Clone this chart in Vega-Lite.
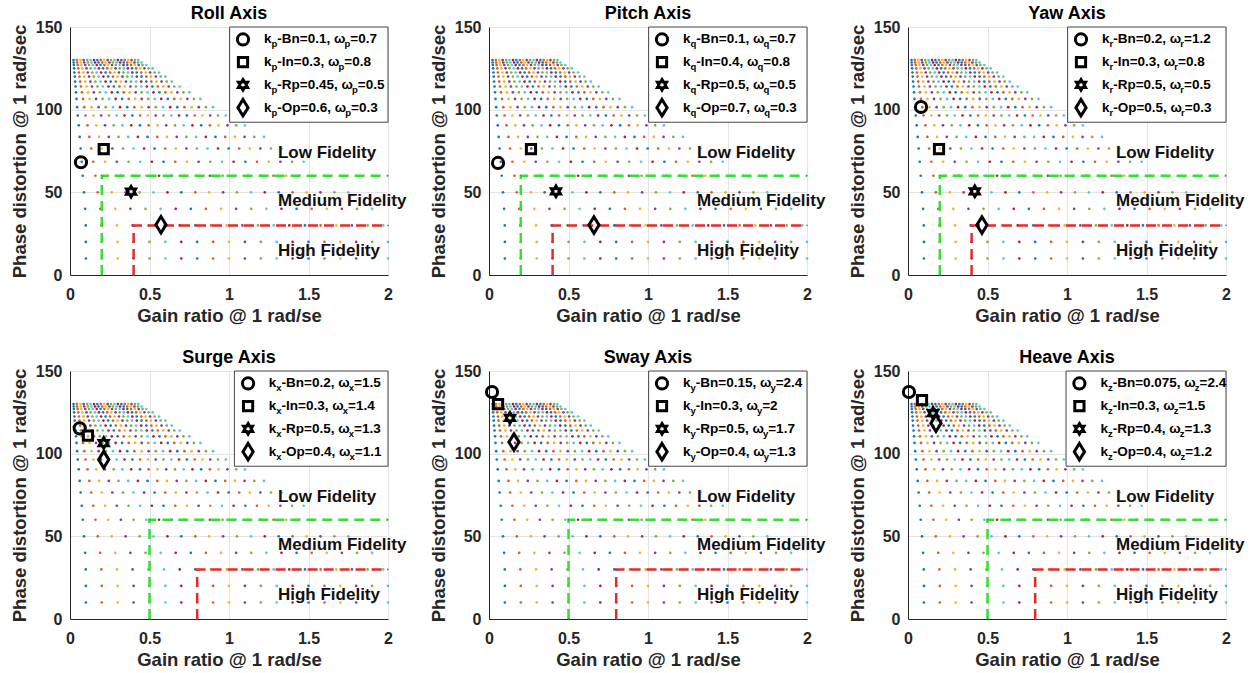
{
"$schema":"https://vega.github.io/schema/vega-lite/v6.json",
"padding":{"left":9,"top":4,"right":5,"bottom":0},
"columns":3,
"spacing":{"row":96,"column":101},
"bounds":"flush",
"datasets":{
"fid":[{"x":1.308,"y":73.8,"t":"Low Fidelity"},{"x":1.308,"y":44.6,"t":"Medium Fidelity"},{"x":1.308,"y":14.3,"t":"High Fidelity"}],
"grid":[
{"x":0.1,"y":10,"c":0},{"x":0.2,"y":10,"c":1},{"x":0.3,"y":10,"c":2},{"x":0.4,"y":10,"c":3},{"x":0.5,"y":10,"c":4},{"x":0.6,"y":10,"c":5},{"x":0.7,"y":10,"c":6},{"x":0.8,"y":10,"c":0},{"x":0.9,"y":10,"c":1},{"x":1,"y":10,"c":2},{"x":1.1,"y":10,"c":3},{"x":1.2,"y":10,"c":4},{"x":1.3,"y":10,"c":5},{"x":1.4,"y":10,"c":6},{"x":1.5,"y":10,"c":0},{"x":1.6,"y":10,"c":1},{"x":1.7,"y":10,"c":2},{"x":1.8,"y":10,"c":3},{"x":1.9,"y":10,"c":4},{"x":2,"y":10,"c":5},
{"x":0.1,"y":20,"c":0},{"x":0.2,"y":20,"c":1},{"x":0.3,"y":20,"c":2},{"x":0.4,"y":20,"c":3},{"x":0.5,"y":20,"c":4},{"x":0.6,"y":20,"c":5},{"x":0.7,"y":20,"c":6},{"x":0.8,"y":20,"c":0},{"x":0.9,"y":20,"c":1},{"x":1,"y":20,"c":2},{"x":1.1,"y":20,"c":3},{"x":1.2,"y":20,"c":4},{"x":1.3,"y":20,"c":5},{"x":1.4,"y":20,"c":6},{"x":1.5,"y":20,"c":0},{"x":1.6,"y":20,"c":1},{"x":1.7,"y":20,"c":2},{"x":1.8,"y":20,"c":3},{"x":1.9,"y":20,"c":4},{"x":2,"y":20,"c":5},
{"x":0.099,"y":30,"c":0},{"x":0.197,"y":30,"c":1},{"x":0.296,"y":30,"c":2},{"x":0.394,"y":30,"c":3},{"x":0.493,"y":30,"c":4},{"x":0.591,"y":30,"c":5},{"x":0.69,"y":30,"c":6},{"x":0.788,"y":30,"c":0},{"x":0.887,"y":30,"c":1},{"x":0.985,"y":30,"c":2},{"x":1.084,"y":30,"c":3},{"x":1.182,"y":30,"c":4},{"x":1.281,"y":30,"c":5},{"x":1.379,"y":30,"c":6},{"x":1.478,"y":30,"c":0},{"x":1.576,"y":30,"c":1},{"x":1.675,"y":30,"c":2},{"x":1.773,"y":30,"c":3},{"x":1.872,"y":30,"c":4},{"x":1.97,"y":30,"c":5},
{"x":0.095,"y":40,"c":0},{"x":0.19,"y":40,"c":1},{"x":0.285,"y":40,"c":2},{"x":0.38,"y":40,"c":3},{"x":0.475,"y":40,"c":4},{"x":0.57,"y":40,"c":5},{"x":0.665,"y":40,"c":6},{"x":0.76,"y":40,"c":0},{"x":0.855,"y":40,"c":1},{"x":0.95,"y":40,"c":2},{"x":1.045,"y":40,"c":3},{"x":1.14,"y":40,"c":4},{"x":1.235,"y":40,"c":5},{"x":1.33,"y":40,"c":6},{"x":1.425,"y":40,"c":0},{"x":1.52,"y":40,"c":1},{"x":1.615,"y":40,"c":2},{"x":1.71,"y":40,"c":3},{"x":1.805,"y":40,"c":4},{"x":1.9,"y":40,"c":5},
{"x":0.088,"y":50,"c":0},{"x":0.175,"y":50,"c":1},{"x":0.263,"y":50,"c":2},{"x":0.35,"y":50,"c":3},{"x":0.438,"y":50,"c":4},{"x":0.525,"y":50,"c":5},{"x":0.613,"y":50,"c":6},{"x":0.7,"y":50,"c":0},{"x":0.788,"y":50,"c":1},{"x":0.875,"y":50,"c":2},{"x":0.963,"y":50,"c":3},{"x":1.05,"y":50,"c":4},{"x":1.138,"y":50,"c":5},{"x":1.225,"y":50,"c":6},{"x":1.313,"y":50,"c":0},{"x":1.4,"y":50,"c":1},{"x":1.488,"y":50,"c":2},{"x":1.575,"y":50,"c":3},{"x":1.663,"y":50,"c":4},{"x":1.75,"y":50,"c":5},
{"x":0.08,"y":60,"c":0},{"x":0.16,"y":60,"c":1},{"x":0.24,"y":60,"c":2},{"x":0.32,"y":60,"c":3},{"x":0.4,"y":60,"c":4},{"x":0.48,"y":60,"c":5},{"x":0.56,"y":60,"c":6},{"x":0.64,"y":60,"c":0},{"x":0.72,"y":60,"c":1},{"x":0.8,"y":60,"c":2},{"x":0.88,"y":60,"c":3},{"x":0.96,"y":60,"c":4},{"x":1.04,"y":60,"c":5},{"x":1.12,"y":60,"c":6},{"x":1.2,"y":60,"c":0},{"x":1.28,"y":60,"c":1},{"x":1.36,"y":60,"c":2},{"x":1.44,"y":60,"c":3},{"x":1.52,"y":60,"c":4},{"x":1.6,"y":60,"c":5},
{"x":0.074,"y":68.5,"c":0},{"x":0.147,"y":68.5,"c":1},{"x":0.221,"y":68.5,"c":2},{"x":0.294,"y":68.5,"c":3},{"x":0.368,"y":68.5,"c":4},{"x":0.441,"y":68.5,"c":5},{"x":0.515,"y":68.5,"c":6},{"x":0.588,"y":68.5,"c":0},{"x":0.662,"y":68.5,"c":1},{"x":0.735,"y":68.5,"c":2},{"x":0.809,"y":68.5,"c":3},{"x":0.882,"y":68.5,"c":4},{"x":0.956,"y":68.5,"c":5},{"x":1.029,"y":68.5,"c":6},{"x":1.103,"y":68.5,"c":0},{"x":1.176,"y":68.5,"c":1},{"x":1.25,"y":68.5,"c":2},{"x":1.323,"y":68.5,"c":3},{"x":1.397,"y":68.5,"c":4},{"x":1.47,"y":68.5,"c":5},
{"x":0.067,"y":76.5,"c":0},{"x":0.133,"y":76.5,"c":1},{"x":0.2,"y":76.5,"c":2},{"x":0.266,"y":76.5,"c":3},{"x":0.333,"y":76.5,"c":4},{"x":0.399,"y":76.5,"c":5},{"x":0.466,"y":76.5,"c":6},{"x":0.532,"y":76.5,"c":0},{"x":0.599,"y":76.5,"c":1},{"x":0.665,"y":76.5,"c":2},{"x":0.732,"y":76.5,"c":3},{"x":0.798,"y":76.5,"c":4},{"x":0.865,"y":76.5,"c":5},{"x":0.931,"y":76.5,"c":6},{"x":0.998,"y":76.5,"c":0},{"x":1.064,"y":76.5,"c":1},{"x":1.131,"y":76.5,"c":2},{"x":1.197,"y":76.5,"c":3},{"x":1.264,"y":76.5,"c":4},{"x":1.33,"y":76.5,"c":5},
{"x":0.061,"y":83.5,"c":0},{"x":0.122,"y":83.5,"c":1},{"x":0.183,"y":83.5,"c":2},{"x":0.244,"y":83.5,"c":3},{"x":0.305,"y":83.5,"c":4},{"x":0.366,"y":83.5,"c":5},{"x":0.427,"y":83.5,"c":6},{"x":0.488,"y":83.5,"c":0},{"x":0.549,"y":83.5,"c":1},{"x":0.61,"y":83.5,"c":2},{"x":0.671,"y":83.5,"c":3},{"x":0.732,"y":83.5,"c":4},{"x":0.793,"y":83.5,"c":5},{"x":0.854,"y":83.5,"c":6},{"x":0.915,"y":83.5,"c":0},{"x":0.976,"y":83.5,"c":1},{"x":1.037,"y":83.5,"c":2},{"x":1.098,"y":83.5,"c":3},{"x":1.159,"y":83.5,"c":4},{"x":1.22,"y":83.5,"c":5},
{"x":0.055,"y":90.5,"c":0},{"x":0.11,"y":90.5,"c":1},{"x":0.165,"y":90.5,"c":2},{"x":0.22,"y":90.5,"c":3},{"x":0.275,"y":90.5,"c":4},{"x":0.33,"y":90.5,"c":5},{"x":0.385,"y":90.5,"c":6},{"x":0.44,"y":90.5,"c":0},{"x":0.495,"y":90.5,"c":1},{"x":0.55,"y":90.5,"c":2},{"x":0.605,"y":90.5,"c":3},{"x":0.66,"y":90.5,"c":4},{"x":0.715,"y":90.5,"c":5},{"x":0.77,"y":90.5,"c":6},{"x":0.825,"y":90.5,"c":0},{"x":0.88,"y":90.5,"c":1},{"x":0.935,"y":90.5,"c":2},{"x":0.99,"y":90.5,"c":3},{"x":1.045,"y":90.5,"c":4},{"x":1.1,"y":90.5,"c":5},
{"x":0.049,"y":96.5,"c":0},{"x":0.098,"y":96.5,"c":1},{"x":0.147,"y":96.5,"c":2},{"x":0.196,"y":96.5,"c":3},{"x":0.245,"y":96.5,"c":4},{"x":0.294,"y":96.5,"c":5},{"x":0.343,"y":96.5,"c":6},{"x":0.392,"y":96.5,"c":0},{"x":0.441,"y":96.5,"c":1},{"x":0.49,"y":96.5,"c":2},{"x":0.539,"y":96.5,"c":3},{"x":0.588,"y":96.5,"c":4},{"x":0.637,"y":96.5,"c":5},{"x":0.686,"y":96.5,"c":6},{"x":0.735,"y":96.5,"c":0},{"x":0.784,"y":96.5,"c":1},{"x":0.833,"y":96.5,"c":2},{"x":0.882,"y":96.5,"c":3},{"x":0.931,"y":96.5,"c":4},{"x":0.98,"y":96.5,"c":5},
{"x":0.045,"y":101.5,"c":0},{"x":0.09,"y":101.5,"c":1},{"x":0.135,"y":101.5,"c":2},{"x":0.18,"y":101.5,"c":3},{"x":0.225,"y":101.5,"c":4},{"x":0.27,"y":101.5,"c":5},{"x":0.315,"y":101.5,"c":6},{"x":0.36,"y":101.5,"c":0},{"x":0.405,"y":101.5,"c":1},{"x":0.45,"y":101.5,"c":2},{"x":0.495,"y":101.5,"c":3},{"x":0.54,"y":101.5,"c":4},{"x":0.585,"y":101.5,"c":5},{"x":0.63,"y":101.5,"c":6},{"x":0.675,"y":101.5,"c":0},{"x":0.72,"y":101.5,"c":1},{"x":0.765,"y":101.5,"c":2},{"x":0.81,"y":101.5,"c":3},{"x":0.855,"y":101.5,"c":4},{"x":0.9,"y":101.5,"c":5},
{"x":0.041,"y":106.5,"c":0},{"x":0.082,"y":106.5,"c":1},{"x":0.123,"y":106.5,"c":2},{"x":0.164,"y":106.5,"c":3},{"x":0.205,"y":106.5,"c":4},{"x":0.246,"y":106.5,"c":5},{"x":0.287,"y":106.5,"c":6},{"x":0.328,"y":106.5,"c":0},{"x":0.369,"y":106.5,"c":1},{"x":0.41,"y":106.5,"c":2},{"x":0.451,"y":106.5,"c":3},{"x":0.492,"y":106.5,"c":4},{"x":0.533,"y":106.5,"c":5},{"x":0.574,"y":106.5,"c":6},{"x":0.615,"y":106.5,"c":0},{"x":0.656,"y":106.5,"c":1},{"x":0.697,"y":106.5,"c":2},{"x":0.738,"y":106.5,"c":3},{"x":0.779,"y":106.5,"c":4},{"x":0.82,"y":106.5,"c":5},
{"x":0.038,"y":110.5,"c":0},{"x":0.075,"y":110.5,"c":1},{"x":0.113,"y":110.5,"c":2},{"x":0.15,"y":110.5,"c":3},{"x":0.188,"y":110.5,"c":4},{"x":0.225,"y":110.5,"c":5},{"x":0.263,"y":110.5,"c":6},{"x":0.3,"y":110.5,"c":0},{"x":0.338,"y":110.5,"c":1},{"x":0.375,"y":110.5,"c":2},{"x":0.413,"y":110.5,"c":3},{"x":0.45,"y":110.5,"c":4},{"x":0.488,"y":110.5,"c":5},{"x":0.525,"y":110.5,"c":6},{"x":0.563,"y":110.5,"c":0},{"x":0.6,"y":110.5,"c":1},{"x":0.638,"y":110.5,"c":2},{"x":0.675,"y":110.5,"c":3},{"x":0.713,"y":110.5,"c":4},{"x":0.75,"y":110.5,"c":5},
{"x":0.035,"y":114,"c":0},{"x":0.069,"y":114,"c":1},{"x":0.104,"y":114,"c":2},{"x":0.138,"y":114,"c":3},{"x":0.173,"y":114,"c":4},{"x":0.207,"y":114,"c":5},{"x":0.242,"y":114,"c":6},{"x":0.276,"y":114,"c":0},{"x":0.311,"y":114,"c":1},{"x":0.345,"y":114,"c":2},{"x":0.38,"y":114,"c":3},{"x":0.414,"y":114,"c":4},{"x":0.449,"y":114,"c":5},{"x":0.483,"y":114,"c":6},{"x":0.518,"y":114,"c":0},{"x":0.552,"y":114,"c":1},{"x":0.587,"y":114,"c":2},{"x":0.621,"y":114,"c":3},{"x":0.656,"y":114,"c":4},{"x":0.69,"y":114,"c":5},
{"x":0.032,"y":117,"c":0},{"x":0.064,"y":117,"c":1},{"x":0.096,"y":117,"c":2},{"x":0.128,"y":117,"c":3},{"x":0.16,"y":117,"c":4},{"x":0.192,"y":117,"c":5},{"x":0.224,"y":117,"c":6},{"x":0.256,"y":117,"c":0},{"x":0.288,"y":117,"c":1},{"x":0.32,"y":117,"c":2},{"x":0.352,"y":117,"c":3},{"x":0.384,"y":117,"c":4},{"x":0.416,"y":117,"c":5},{"x":0.448,"y":117,"c":6},{"x":0.48,"y":117,"c":0},{"x":0.512,"y":117,"c":1},{"x":0.544,"y":117,"c":2},{"x":0.576,"y":117,"c":3},{"x":0.608,"y":117,"c":4},{"x":0.64,"y":117,"c":5},
{"x":0.03,"y":120,"c":0},{"x":0.06,"y":120,"c":1},{"x":0.09,"y":120,"c":2},{"x":0.12,"y":120,"c":3},{"x":0.15,"y":120,"c":4},{"x":0.18,"y":120,"c":5},{"x":0.21,"y":120,"c":6},{"x":0.24,"y":120,"c":0},{"x":0.27,"y":120,"c":1},{"x":0.3,"y":120,"c":2},{"x":0.33,"y":120,"c":3},{"x":0.36,"y":120,"c":4},{"x":0.39,"y":120,"c":5},{"x":0.42,"y":120,"c":6},{"x":0.45,"y":120,"c":0},{"x":0.48,"y":120,"c":1},{"x":0.51,"y":120,"c":2},{"x":0.54,"y":120,"c":3},{"x":0.57,"y":120,"c":4},{"x":0.6,"y":120,"c":5},
{"x":0.028,"y":122.5,"c":0},{"x":0.056,"y":122.5,"c":1},{"x":0.084,"y":122.5,"c":2},{"x":0.112,"y":122.5,"c":3},{"x":0.14,"y":122.5,"c":4},{"x":0.168,"y":122.5,"c":5},{"x":0.196,"y":122.5,"c":6},{"x":0.224,"y":122.5,"c":0},{"x":0.252,"y":122.5,"c":1},{"x":0.28,"y":122.5,"c":2},{"x":0.308,"y":122.5,"c":3},{"x":0.336,"y":122.5,"c":4},{"x":0.364,"y":122.5,"c":5},{"x":0.392,"y":122.5,"c":6},{"x":0.42,"y":122.5,"c":0},{"x":0.448,"y":122.5,"c":1},{"x":0.476,"y":122.5,"c":2},{"x":0.504,"y":122.5,"c":3},{"x":0.532,"y":122.5,"c":4},{"x":0.56,"y":122.5,"c":5},
{"x":0.026,"y":125,"c":0},{"x":0.052,"y":125,"c":1},{"x":0.078,"y":125,"c":2},{"x":0.104,"y":125,"c":3},{"x":0.13,"y":125,"c":4},{"x":0.156,"y":125,"c":5},{"x":0.182,"y":125,"c":6},{"x":0.208,"y":125,"c":0},{"x":0.234,"y":125,"c":1},{"x":0.26,"y":125,"c":2},{"x":0.286,"y":125,"c":3},{"x":0.312,"y":125,"c":4},{"x":0.338,"y":125,"c":5},{"x":0.364,"y":125,"c":6},{"x":0.39,"y":125,"c":0},{"x":0.416,"y":125,"c":1},{"x":0.442,"y":125,"c":2},{"x":0.468,"y":125,"c":3},{"x":0.494,"y":125,"c":4},{"x":0.52,"y":125,"c":5},
{"x":0.024,"y":127,"c":0},{"x":0.048,"y":127,"c":1},{"x":0.072,"y":127,"c":2},{"x":0.096,"y":127,"c":3},{"x":0.12,"y":127,"c":4},{"x":0.144,"y":127,"c":5},{"x":0.168,"y":127,"c":6},{"x":0.192,"y":127,"c":0},{"x":0.216,"y":127,"c":1},{"x":0.24,"y":127,"c":2},{"x":0.264,"y":127,"c":3},{"x":0.288,"y":127,"c":4},{"x":0.312,"y":127,"c":5},{"x":0.336,"y":127,"c":6},{"x":0.36,"y":127,"c":0},{"x":0.384,"y":127,"c":1},{"x":0.408,"y":127,"c":2},{"x":0.432,"y":127,"c":3},{"x":0.456,"y":127,"c":4},{"x":0.48,"y":127,"c":5},
{"x":0.023,"y":128.5,"c":0},{"x":0.045,"y":128.5,"c":1},{"x":0.068,"y":128.5,"c":2},{"x":0.09,"y":128.5,"c":3},{"x":0.113,"y":128.5,"c":4},{"x":0.135,"y":128.5,"c":5},{"x":0.158,"y":128.5,"c":6},{"x":0.18,"y":128.5,"c":0},{"x":0.203,"y":128.5,"c":1},{"x":0.225,"y":128.5,"c":2},{"x":0.248,"y":128.5,"c":3},{"x":0.27,"y":128.5,"c":4},{"x":0.293,"y":128.5,"c":5},{"x":0.315,"y":128.5,"c":6},{"x":0.338,"y":128.5,"c":0},{"x":0.36,"y":128.5,"c":1},{"x":0.383,"y":128.5,"c":2},{"x":0.405,"y":128.5,"c":3},{"x":0.428,"y":128.5,"c":4},{"x":0.45,"y":128.5,"c":5},
{"x":0.022,"y":130,"c":0},{"x":0.043,"y":130,"c":1},{"x":0.065,"y":130,"c":2},{"x":0.086,"y":130,"c":3},{"x":0.108,"y":130,"c":4},{"x":0.129,"y":130,"c":5},{"x":0.151,"y":130,"c":6},{"x":0.172,"y":130,"c":0},{"x":0.194,"y":130,"c":1},{"x":0.215,"y":130,"c":2},{"x":0.237,"y":130,"c":3},{"x":0.258,"y":130,"c":4},{"x":0.28,"y":130,"c":5},{"x":0.301,"y":130,"c":6},{"x":0.323,"y":130,"c":0},{"x":0.344,"y":130,"c":1},{"x":0.366,"y":130,"c":2},{"x":0.387,"y":130,"c":3},{"x":0.409,"y":130,"c":4},{"x":0.43,"y":130,"c":5}
]
},
"concat":[
{"title":"Roll Axis","width":318,"height":248,
"encoding":{"x":{"field":"x","type":"quantitative","scale":{"domain":[0,2],"nice":false},"axis":{"values":[0,0.5,1,1.5,2],"format":"~g","title":"Gain ratio @ 1 rad/se"}},"y":{"field":"y","type":"quantitative","scale":{"domain":[0,150],"nice":false},"axis":{"values":[0,50,100,150],"format":"d","title":"Phase distortion @ 1 rad/sec"}},"shape":{"field":"m","type":"nominal","scale":{"domain":["Bn","In","Rp","Op"],"range":["circle","square","M0,-1L0.289,-0.5L0.866,-0.5L0.577,0L0.866,0.5L0.289,0.5L0,1L-0.289,0.5L-0.866,0.5L-0.577,0L-0.866,-0.5L-0.289,-0.5Z","M0,-1L0.62,0L0,1L-0.62,0Z"]},"legend":null},"size":{"field":"m","type":"nominal","scale":{"type":"ordinal","domain":["Bn","In","Rp","Op"],"range":[125,85,110,270]},"legend":null}},
"layer":[
{"data":{"name":"grid"},"mark":{"type":"point","filled":true,"size":7,"opacity":0.95},"encoding":{"shape":{"value":"circle"},"size":{"value":7},"color":{"field":"c","type":"nominal","scale":{"domain":[0,1,2,3,4,5,6],"range":["#0072BD","#D95319","#EDB120","#7E2F8E","#77AC30","#4DBEEE","#A2142F"]},"legend":null}}},
{"data":{"values":[{"x":0.2,"y":0,"o":1},{"x":0.2,"y":60,"o":2},{"x":2,"y":60,"o":3}]},"mark":{"type":"line","color":"#33e033","strokeWidth":2.5,"strokeDash":[10,6]},"encoding":{"shape":{"value":"circle"},"size":{"value":2.5},"order":{"field":"o","type":"quantitative"}}},
{"data":{"values":[{"x":0.4,"y":0,"o":1},{"x":0.4,"y":30,"o":2},{"x":2,"y":30,"o":3}]},"mark":{"type":"line","color":"#e52a2a","strokeWidth":2.5,"strokeDash":[10,6]},"encoding":{"shape":{"value":"circle"},"size":{"value":2.5},"order":{"field":"o","type":"quantitative"}}},
{"data":{"values":[{"x":0.069,"y":68.2,"m":"Bn"},{"x":0.212,"y":76.2,"m":"In"},{"x":0.384,"y":50.4,"m":"Rp"},{"x":0.572,"y":30.4,"m":"Op"}]},"mark":{"type":"point","filled":false,"color":"black","strokeWidth":3,"opacity":1}},
{"data":{"name":"fid"},"mark":{"type":"text","align":"left","baseline":"middle","fontSize":17,"fontWeight":"bold","color":"#111"},"encoding":{"shape":{"value":"circle"},"size":{"value":17},"text":{"field":"t"}}},
{"data":{"values":[{"x":1.004,"x2":2,"y":92.4,"y2":150}]},"mark":{"type":"rect","fill":"white","stroke":"#444","strokeWidth":1},"encoding":{"shape":{"value":"circle"},"size":{"value":1},"x2":{"field":"x2"},"y2":{"field":"y2"}}},
{"data":{"values":[{"x":1.088,"y":142.5,"m":"Bn"},{"x":1.088,"y":128.7,"m":"In"},{"x":1.088,"y":115,"m":"Rp"},{"x":1.088,"y":101.2,"m":"Op"}]},"mark":{"type":"point","filled":false,"color":"black","strokeWidth":3,"opacity":1}},
{"data":{"values":[{"x":1.22,"y":142.5,"t":"k"},{"x":1.3037,"y":142.5,"t":"-Bn=0.1, ω"},{"x":1.7627,"y":142.5,"t":"=0.7"},{"x":1.22,"y":128.7,"t":"k"},{"x":1.3037,"y":128.7,"t":"-In=0.3, ω"},{"x":1.725,"y":128.7,"t":"=0.8"},{"x":1.22,"y":115,"t":"k"},{"x":1.3037,"y":115,"t":"-Rp=0.45, ω"},{"x":1.8099,"y":115,"t":"=0.5"},{"x":1.22,"y":101.2,"t":"k"},{"x":1.3037,"y":101.2,"t":"-Op=0.6, ω"},{"x":1.7674,"y":101.2,"t":"=0.3"}]},"mark":{"type":"text","align":"left","baseline":"middle","fontWeight":"bold","color":"black"},"encoding":{"shape":{"value":"circle"},"size":{"value":13.5},"text":{"field":"t"}}},
{"data":{"values":[{"x":1.2672,"y":142.5,"t":"p"},{"x":1.7262,"y":142.5,"t":"p"},{"x":1.2672,"y":128.7,"t":"p"},{"x":1.6885,"y":128.7,"t":"p"},{"x":1.2672,"y":115,"t":"p"},{"x":1.7734,"y":115,"t":"p"},{"x":1.2672,"y":101.2,"t":"p"},{"x":1.7309,"y":101.2,"t":"p"}]},"mark":{"type":"text","align":"left","baseline":"middle","fontWeight":"bold","dy":5,"color":"black"},"encoding":{"shape":{"value":"circle"},"size":{"value":9.5},"text":{"field":"t"}}}
]},
{"title":"Pitch Axis","width":318,"height":248,
"encoding":{"x":{"field":"x","type":"quantitative","scale":{"domain":[0,2],"nice":false},"axis":{"values":[0,0.5,1,1.5,2],"format":"~g","title":"Gain ratio @ 1 rad/se"}},"y":{"field":"y","type":"quantitative","scale":{"domain":[0,150],"nice":false},"axis":{"values":[0,50,100,150],"format":"d","title":"Phase distortion @ 1 rad/sec"}},"shape":{"field":"m","type":"nominal","scale":{"domain":["Bn","In","Rp","Op"],"range":["circle","square","M0,-1L0.289,-0.5L0.866,-0.5L0.577,0L0.866,0.5L0.289,0.5L0,1L-0.289,0.5L-0.866,0.5L-0.577,0L-0.866,-0.5L-0.289,-0.5Z","M0,-1L0.62,0L0,1L-0.62,0Z"]},"legend":null},"size":{"field":"m","type":"nominal","scale":{"type":"ordinal","domain":["Bn","In","Rp","Op"],"range":[125,85,110,270]},"legend":null}},
"layer":[
{"data":{"name":"grid"},"mark":{"type":"point","filled":true,"size":7,"opacity":0.95},"encoding":{"shape":{"value":"circle"},"size":{"value":7},"color":{"field":"c","type":"nominal","scale":{"domain":[0,1,2,3,4,5,6],"range":["#0072BD","#D95319","#EDB120","#7E2F8E","#77AC30","#4DBEEE","#A2142F"]},"legend":null}}},
{"data":{"values":[{"x":0.2,"y":0,"o":1},{"x":0.2,"y":60,"o":2},{"x":2,"y":60,"o":3}]},"mark":{"type":"line","color":"#33e033","strokeWidth":2.5,"strokeDash":[10,6]},"encoding":{"shape":{"value":"circle"},"size":{"value":2.5},"order":{"field":"o","type":"quantitative"}}},
{"data":{"values":[{"x":0.4,"y":0,"o":1},{"x":0.4,"y":30,"o":2},{"x":2,"y":30,"o":3}]},"mark":{"type":"line","color":"#e52a2a","strokeWidth":2.5,"strokeDash":[10,6]},"encoding":{"shape":{"value":"circle"},"size":{"value":2.5},"order":{"field":"o","type":"quantitative"}}},
{"data":{"values":[{"x":0.057,"y":67.8,"m":"Bn"},{"x":0.264,"y":76.2,"m":"In"},{"x":0.421,"y":50.6,"m":"Rp"},{"x":0.66,"y":30.2,"m":"Op"}]},"mark":{"type":"point","filled":false,"color":"black","strokeWidth":3,"opacity":1}},
{"data":{"name":"fid"},"mark":{"type":"text","align":"left","baseline":"middle","fontSize":17,"fontWeight":"bold","color":"#111"},"encoding":{"shape":{"value":"circle"},"size":{"value":17},"text":{"field":"t"}}},
{"data":{"values":[{"x":1.004,"x2":2,"y":92.4,"y2":150}]},"mark":{"type":"rect","fill":"white","stroke":"#444","strokeWidth":1},"encoding":{"shape":{"value":"circle"},"size":{"value":1},"x2":{"field":"x2"},"y2":{"field":"y2"}}},
{"data":{"values":[{"x":1.088,"y":142.5,"m":"Bn"},{"x":1.088,"y":128.7,"m":"In"},{"x":1.088,"y":115,"m":"Rp"},{"x":1.088,"y":101.2,"m":"Op"}]},"mark":{"type":"point","filled":false,"color":"black","strokeWidth":3,"opacity":1}},
{"data":{"values":[{"x":1.22,"y":142.5,"t":"k"},{"x":1.3037,"y":142.5,"t":"-Bn=0.1, ω"},{"x":1.7627,"y":142.5,"t":"=0.7"},{"x":1.22,"y":128.7,"t":"k"},{"x":1.3037,"y":128.7,"t":"-In=0.4, ω"},{"x":1.725,"y":128.7,"t":"=0.8"},{"x":1.22,"y":115,"t":"k"},{"x":1.3037,"y":115,"t":"-Rp=0.5, ω"},{"x":1.7627,"y":115,"t":"=0.5"},{"x":1.22,"y":101.2,"t":"k"},{"x":1.3037,"y":101.2,"t":"-Op=0.7, ω"},{"x":1.7674,"y":101.2,"t":"=0.3"}]},"mark":{"type":"text","align":"left","baseline":"middle","fontWeight":"bold","color":"black"},"encoding":{"shape":{"value":"circle"},"size":{"value":13.5},"text":{"field":"t"}}},
{"data":{"values":[{"x":1.2672,"y":142.5,"t":"q"},{"x":1.7262,"y":142.5,"t":"q"},{"x":1.2672,"y":128.7,"t":"q"},{"x":1.6885,"y":128.7,"t":"q"},{"x":1.2672,"y":115,"t":"q"},{"x":1.7262,"y":115,"t":"q"},{"x":1.2672,"y":101.2,"t":"q"},{"x":1.7309,"y":101.2,"t":"q"}]},"mark":{"type":"text","align":"left","baseline":"middle","fontWeight":"bold","dy":5,"color":"black"},"encoding":{"shape":{"value":"circle"},"size":{"value":9.5},"text":{"field":"t"}}}
]},
{"title":"Yaw Axis","width":318,"height":248,
"encoding":{"x":{"field":"x","type":"quantitative","scale":{"domain":[0,2],"nice":false},"axis":{"values":[0,0.5,1,1.5,2],"format":"~g","title":"Gain ratio @ 1 rad/se"}},"y":{"field":"y","type":"quantitative","scale":{"domain":[0,150],"nice":false},"axis":{"values":[0,50,100,150],"format":"d","title":"Phase distortion @ 1 rad/sec"}},"shape":{"field":"m","type":"nominal","scale":{"domain":["Bn","In","Rp","Op"],"range":["circle","square","M0,-1L0.289,-0.5L0.866,-0.5L0.577,0L0.866,0.5L0.289,0.5L0,1L-0.289,0.5L-0.866,0.5L-0.577,0L-0.866,-0.5L-0.289,-0.5Z","M0,-1L0.62,0L0,1L-0.62,0Z"]},"legend":null},"size":{"field":"m","type":"nominal","scale":{"type":"ordinal","domain":["Bn","In","Rp","Op"],"range":[125,85,110,270]},"legend":null}},
"layer":[
{"data":{"name":"grid"},"mark":{"type":"point","filled":true,"size":7,"opacity":0.95},"encoding":{"shape":{"value":"circle"},"size":{"value":7},"color":{"field":"c","type":"nominal","scale":{"domain":[0,1,2,3,4,5,6],"range":["#0072BD","#D95319","#EDB120","#7E2F8E","#77AC30","#4DBEEE","#A2142F"]},"legend":null}}},
{"data":{"values":[{"x":0.2,"y":0,"o":1},{"x":0.2,"y":60,"o":2},{"x":2,"y":60,"o":3}]},"mark":{"type":"line","color":"#33e033","strokeWidth":2.5,"strokeDash":[10,6]},"encoding":{"shape":{"value":"circle"},"size":{"value":2.5},"order":{"field":"o","type":"quantitative"}}},
{"data":{"values":[{"x":0.4,"y":0,"o":1},{"x":0.4,"y":30,"o":2},{"x":2,"y":30,"o":3}]},"mark":{"type":"line","color":"#e52a2a","strokeWidth":2.5,"strokeDash":[10,6]},"encoding":{"shape":{"value":"circle"},"size":{"value":2.5},"order":{"field":"o","type":"quantitative"}}},
{"data":{"values":[{"x":0.082,"y":101.6,"m":"Bn"},{"x":0.195,"y":76.2,"m":"In"},{"x":0.42,"y":50.6,"m":"Rp"},{"x":0.465,"y":30.2,"m":"Op"}]},"mark":{"type":"point","filled":false,"color":"black","strokeWidth":3,"opacity":1}},
{"data":{"name":"fid"},"mark":{"type":"text","align":"left","baseline":"middle","fontSize":17,"fontWeight":"bold","color":"#111"},"encoding":{"shape":{"value":"circle"},"size":{"value":17},"text":{"field":"t"}}},
{"data":{"values":[{"x":1.004,"x2":2,"y":92.4,"y2":150}]},"mark":{"type":"rect","fill":"white","stroke":"#444","strokeWidth":1},"encoding":{"shape":{"value":"circle"},"size":{"value":1},"x2":{"field":"x2"},"y2":{"field":"y2"}}},
{"data":{"values":[{"x":1.088,"y":142.5,"m":"Bn"},{"x":1.088,"y":128.7,"m":"In"},{"x":1.088,"y":115,"m":"Rp"},{"x":1.088,"y":101.2,"m":"Op"}]},"mark":{"type":"point","filled":false,"color":"black","strokeWidth":3,"opacity":1}},
{"data":{"values":[{"x":1.22,"y":142.5,"t":"k"},{"x":1.2905,"y":142.5,"t":"-Bn=0.2, ω"},{"x":1.7363,"y":142.5,"t":"=1.2"},{"x":1.22,"y":128.7,"t":"k"},{"x":1.2905,"y":128.7,"t":"-In=0.3, ω"},{"x":1.6986,"y":128.7,"t":"=0.8"},{"x":1.22,"y":115,"t":"k"},{"x":1.2905,"y":115,"t":"-Rp=0.5, ω"},{"x":1.7363,"y":115,"t":"=0.5"},{"x":1.22,"y":101.2,"t":"k"},{"x":1.2905,"y":101.2,"t":"-Op=0.5, ω"},{"x":1.741,"y":101.2,"t":"=0.3"}]},"mark":{"type":"text","align":"left","baseline":"middle","fontWeight":"bold","color":"black"},"encoding":{"shape":{"value":"circle"},"size":{"value":13.5},"text":{"field":"t"}}},
{"data":{"values":[{"x":1.2672,"y":142.5,"t":"r"},{"x":1.713,"y":142.5,"t":"r"},{"x":1.2672,"y":128.7,"t":"r"},{"x":1.6753,"y":128.7,"t":"r"},{"x":1.2672,"y":115,"t":"r"},{"x":1.713,"y":115,"t":"r"},{"x":1.2672,"y":101.2,"t":"r"},{"x":1.7177,"y":101.2,"t":"r"}]},"mark":{"type":"text","align":"left","baseline":"middle","fontWeight":"bold","dy":5,"color":"black"},"encoding":{"shape":{"value":"circle"},"size":{"value":9.5},"text":{"field":"t"}}}
]},
{"title":"Surge Axis","width":318,"height":248,
"encoding":{"x":{"field":"x","type":"quantitative","scale":{"domain":[0,2],"nice":false},"axis":{"values":[0,0.5,1,1.5,2],"format":"~g","title":"Gain ratio @ 1 rad/se"}},"y":{"field":"y","type":"quantitative","scale":{"domain":[0,150],"nice":false},"axis":{"values":[0,50,100,150],"format":"d","title":"Phase distortion @ 1 rad/sec"}},"shape":{"field":"m","type":"nominal","scale":{"domain":["Bn","In","Rp","Op"],"range":["circle","square","M0,-1L0.289,-0.5L0.866,-0.5L0.577,0L0.866,0.5L0.289,0.5L0,1L-0.289,0.5L-0.866,0.5L-0.577,0L-0.866,-0.5L-0.289,-0.5Z","M0,-1L0.62,0L0,1L-0.62,0Z"]},"legend":null},"size":{"field":"m","type":"nominal","scale":{"type":"ordinal","domain":["Bn","In","Rp","Op"],"range":[125,85,110,270]},"legend":null}},
"layer":[
{"data":{"name":"grid"},"mark":{"type":"point","filled":true,"size":7,"opacity":0.95},"encoding":{"shape":{"value":"circle"},"size":{"value":7},"color":{"field":"c","type":"nominal","scale":{"domain":[0,1,2,3,4,5,6],"range":["#0072BD","#D95319","#EDB120","#7E2F8E","#77AC30","#4DBEEE","#A2142F"]},"legend":null}}},
{"data":{"values":[{"x":0.5,"y":0,"o":1},{"x":0.5,"y":60,"o":2},{"x":2,"y":60,"o":3}]},"mark":{"type":"line","color":"#33e033","strokeWidth":2.5,"strokeDash":[10,6]},"encoding":{"shape":{"value":"circle"},"size":{"value":2.5},"order":{"field":"o","type":"quantitative"}}},
{"data":{"values":[{"x":0.8,"y":0,"o":1},{"x":0.8,"y":30,"o":2},{"x":2,"y":30,"o":3}]},"mark":{"type":"line","color":"#e52a2a","strokeWidth":2.5,"strokeDash":[10,6]},"encoding":{"shape":{"value":"circle"},"size":{"value":2.5},"order":{"field":"o","type":"quantitative"}}},
{"data":{"values":[{"x":0.061,"y":115.3,"m":"Bn"},{"x":0.113,"y":110.9,"m":"In"},{"x":0.212,"y":106.4,"m":"Rp"},{"x":0.212,"y":96.4,"m":"Op"}]},"mark":{"type":"point","filled":false,"color":"black","strokeWidth":3,"opacity":1}},
{"data":{"name":"fid"},"mark":{"type":"text","align":"left","baseline":"middle","fontSize":17,"fontWeight":"bold","color":"#111"},"encoding":{"shape":{"value":"circle"},"size":{"value":17},"text":{"field":"t"}}},
{"data":{"values":[{"x":1.034,"x2":2,"y":92.4,"y2":150}]},"mark":{"type":"rect","fill":"white","stroke":"#444","strokeWidth":1},"encoding":{"shape":{"value":"circle"},"size":{"value":1},"x2":{"field":"x2"},"y2":{"field":"y2"}}},
{"data":{"values":[{"x":1.12,"y":142.5,"m":"Bn"},{"x":1.12,"y":128.7,"m":"In"},{"x":1.12,"y":115,"m":"Rp"},{"x":1.12,"y":101.2,"m":"Op"}]},"mark":{"type":"point","filled":false,"color":"black","strokeWidth":3,"opacity":1}},
{"data":{"values":[{"x":1.25,"y":142.5,"t":"k"},{"x":1.3304,"y":142.5,"t":"-Bn=0.2, ω"},{"x":1.7862,"y":142.5,"t":"=1.5"},{"x":1.25,"y":128.7,"t":"k"},{"x":1.3304,"y":128.7,"t":"-In=0.3, ω"},{"x":1.7484,"y":128.7,"t":"=1.4"},{"x":1.25,"y":115,"t":"k"},{"x":1.3304,"y":115,"t":"-Rp=0.5, ω"},{"x":1.7862,"y":115,"t":"=1.3"},{"x":1.25,"y":101.2,"t":"k"},{"x":1.3304,"y":101.2,"t":"-Op=0.4, ω"},{"x":1.7909,"y":101.2,"t":"=1.1"}]},"mark":{"type":"text","align":"left","baseline":"middle","fontWeight":"bold","color":"black"},"encoding":{"shape":{"value":"circle"},"size":{"value":13.5},"text":{"field":"t"}}},
{"data":{"values":[{"x":1.2972,"y":142.5,"t":"x"},{"x":1.753,"y":142.5,"t":"x"},{"x":1.2972,"y":128.7,"t":"x"},{"x":1.7152,"y":128.7,"t":"x"},{"x":1.2972,"y":115,"t":"x"},{"x":1.753,"y":115,"t":"x"},{"x":1.2972,"y":101.2,"t":"x"},{"x":1.7577,"y":101.2,"t":"x"}]},"mark":{"type":"text","align":"left","baseline":"middle","fontWeight":"bold","dy":5,"color":"black"},"encoding":{"shape":{"value":"circle"},"size":{"value":9.5},"text":{"field":"t"}}}
]},
{"title":"Sway Axis","width":318,"height":248,
"encoding":{"x":{"field":"x","type":"quantitative","scale":{"domain":[0,2],"nice":false},"axis":{"values":[0,0.5,1,1.5,2],"format":"~g","title":"Gain ratio @ 1 rad/se"}},"y":{"field":"y","type":"quantitative","scale":{"domain":[0,150],"nice":false},"axis":{"values":[0,50,100,150],"format":"d","title":"Phase distortion @ 1 rad/sec"}},"shape":{"field":"m","type":"nominal","scale":{"domain":["Bn","In","Rp","Op"],"range":["circle","square","M0,-1L0.289,-0.5L0.866,-0.5L0.577,0L0.866,0.5L0.289,0.5L0,1L-0.289,0.5L-0.866,0.5L-0.577,0L-0.866,-0.5L-0.289,-0.5Z","M0,-1L0.62,0L0,1L-0.62,0Z"]},"legend":null},"size":{"field":"m","type":"nominal","scale":{"type":"ordinal","domain":["Bn","In","Rp","Op"],"range":[125,85,110,270]},"legend":null}},
"layer":[
{"data":{"name":"grid"},"mark":{"type":"point","filled":true,"size":7,"opacity":0.95},"encoding":{"shape":{"value":"circle"},"size":{"value":7},"color":{"field":"c","type":"nominal","scale":{"domain":[0,1,2,3,4,5,6],"range":["#0072BD","#D95319","#EDB120","#7E2F8E","#77AC30","#4DBEEE","#A2142F"]},"legend":null}}},
{"data":{"values":[{"x":0.5,"y":0,"o":1},{"x":0.5,"y":60,"o":2},{"x":2,"y":60,"o":3}]},"mark":{"type":"line","color":"#33e033","strokeWidth":2.5,"strokeDash":[10,6]},"encoding":{"shape":{"value":"circle"},"size":{"value":2.5},"order":{"field":"o","type":"quantitative"}}},
{"data":{"values":[{"x":0.8,"y":0,"o":1},{"x":0.8,"y":30,"o":2},{"x":2,"y":30,"o":3}]},"mark":{"type":"line","color":"#e52a2a","strokeWidth":2.5,"strokeDash":[10,6]},"encoding":{"shape":{"value":"circle"},"size":{"value":2.5},"order":{"field":"o","type":"quantitative"}}},
{"data":{"values":[{"x":0.019,"y":137.3,"m":"Bn"},{"x":0.057,"y":130,"m":"In"},{"x":0.132,"y":121.6,"m":"Rp"},{"x":0.157,"y":107,"m":"Op"}]},"mark":{"type":"point","filled":false,"color":"black","strokeWidth":3,"opacity":1}},
{"data":{"name":"fid"},"mark":{"type":"text","align":"left","baseline":"middle","fontSize":17,"fontWeight":"bold","color":"#111"},"encoding":{"shape":{"value":"circle"},"size":{"value":17},"text":{"field":"t"}}},
{"data":{"values":[{"x":1.004,"x2":2,"y":92.4,"y2":150}]},"mark":{"type":"rect","fill":"white","stroke":"#444","strokeWidth":1},"encoding":{"shape":{"value":"circle"},"size":{"value":1},"x2":{"field":"x2"},"y2":{"field":"y2"}}},
{"data":{"values":[{"x":1.088,"y":142.5,"m":"Bn"},{"x":1.088,"y":128.7,"m":"In"},{"x":1.088,"y":115,"m":"Rp"},{"x":1.088,"y":101.2,"m":"Op"}]},"mark":{"type":"point","filled":false,"color":"black","strokeWidth":3,"opacity":1}},
{"data":{"values":[{"x":1.22,"y":142.5,"t":"k"},{"x":1.3004,"y":142.5,"t":"-Bn=0.15, ω"},{"x":1.8033,"y":142.5,"t":"=2.4"},{"x":1.22,"y":128.7,"t":"k"},{"x":1.3004,"y":128.7,"t":"-In=0.3, ω"},{"x":1.7184,"y":128.7,"t":"=2"},{"x":1.22,"y":115,"t":"k"},{"x":1.3004,"y":115,"t":"-Rp=0.5, ω"},{"x":1.7562,"y":115,"t":"=1.7"},{"x":1.22,"y":101.2,"t":"k"},{"x":1.3004,"y":101.2,"t":"-Op=0.4, ω"},{"x":1.7609,"y":101.2,"t":"=1.3"}]},"mark":{"type":"text","align":"left","baseline":"middle","fontWeight":"bold","color":"black"},"encoding":{"shape":{"value":"circle"},"size":{"value":13.5},"text":{"field":"t"}}},
{"data":{"values":[{"x":1.2672,"y":142.5,"t":"y"},{"x":1.7701,"y":142.5,"t":"y"},{"x":1.2672,"y":128.7,"t":"y"},{"x":1.6852,"y":128.7,"t":"y"},{"x":1.2672,"y":115,"t":"y"},{"x":1.723,"y":115,"t":"y"},{"x":1.2672,"y":101.2,"t":"y"},{"x":1.7277,"y":101.2,"t":"y"}]},"mark":{"type":"text","align":"left","baseline":"middle","fontWeight":"bold","dy":5,"color":"black"},"encoding":{"shape":{"value":"circle"},"size":{"value":9.5},"text":{"field":"t"}}}
]},
{"title":"Heave Axis","width":318,"height":248,
"encoding":{"x":{"field":"x","type":"quantitative","scale":{"domain":[0,2],"nice":false},"axis":{"values":[0,0.5,1,1.5,2],"format":"~g","title":"Gain ratio @ 1 rad/se"}},"y":{"field":"y","type":"quantitative","scale":{"domain":[0,150],"nice":false},"axis":{"values":[0,50,100,150],"format":"d","title":"Phase distortion @ 1 rad/sec"}},"shape":{"field":"m","type":"nominal","scale":{"domain":["Bn","In","Rp","Op"],"range":["circle","square","M0,-1L0.289,-0.5L0.866,-0.5L0.577,0L0.866,0.5L0.289,0.5L0,1L-0.289,0.5L-0.866,0.5L-0.577,0L-0.866,-0.5L-0.289,-0.5Z","M0,-1L0.62,0L0,1L-0.62,0Z"]},"legend":null},"size":{"field":"m","type":"nominal","scale":{"type":"ordinal","domain":["Bn","In","Rp","Op"],"range":[125,85,110,270]},"legend":null}},
"layer":[
{"data":{"name":"grid"},"mark":{"type":"point","filled":true,"size":7,"opacity":0.95},"encoding":{"shape":{"value":"circle"},"size":{"value":7},"color":{"field":"c","type":"nominal","scale":{"domain":[0,1,2,3,4,5,6],"range":["#0072BD","#D95319","#EDB120","#7E2F8E","#77AC30","#4DBEEE","#A2142F"]},"legend":null}}},
{"data":{"values":[{"x":0.5,"y":0,"o":1},{"x":0.5,"y":60,"o":2},{"x":2,"y":60,"o":3}]},"mark":{"type":"line","color":"#33e033","strokeWidth":2.5,"strokeDash":[10,6]},"encoding":{"shape":{"value":"circle"},"size":{"value":2.5},"order":{"field":"o","type":"quantitative"}}},
{"data":{"values":[{"x":0.8,"y":0,"o":1},{"x":0.8,"y":30,"o":2},{"x":2,"y":30,"o":3}]},"mark":{"type":"line","color":"#e52a2a","strokeWidth":2.5,"strokeDash":[10,6]},"encoding":{"shape":{"value":"circle"},"size":{"value":2.5},"order":{"field":"o","type":"quantitative"}}},
{"data":{"values":[{"x":0.006,"y":137.3,"m":"Bn"},{"x":0.088,"y":132.4,"m":"In"},{"x":0.157,"y":124.5,"m":"Rp"},{"x":0.176,"y":118.4,"m":"Op"}]},"mark":{"type":"point","filled":false,"color":"black","strokeWidth":3,"opacity":1}},
{"data":{"name":"fid"},"mark":{"type":"text","align":"left","baseline":"middle","fontSize":17,"fontWeight":"bold","color":"#111"},"encoding":{"shape":{"value":"circle"},"size":{"value":17},"text":{"field":"t"}}},
{"data":{"values":[{"x":0.994,"x2":2,"y":92.4,"y2":150}]},"mark":{"type":"rect","fill":"white","stroke":"#444","strokeWidth":1},"encoding":{"shape":{"value":"circle"},"size":{"value":1},"x2":{"field":"x2"},"y2":{"field":"y2"}}},
{"data":{"values":[{"x":1.078,"y":142.5,"m":"Bn"},{"x":1.078,"y":128.7,"m":"In"},{"x":1.078,"y":115,"m":"Rp"},{"x":1.078,"y":101.2,"m":"Op"}]},"mark":{"type":"point","filled":false,"color":"black","strokeWidth":3,"opacity":1}},
{"data":{"values":[{"x":1.21,"y":142.5,"t":"k"},{"x":1.2871,"y":142.5,"t":"-Bn=0.075, ω"},{"x":1.8339,"y":142.5,"t":"=2.4"},{"x":1.21,"y":128.7,"t":"k"},{"x":1.2871,"y":128.7,"t":"-In=0.3, ω"},{"x":1.7018,"y":128.7,"t":"=1.5"},{"x":1.21,"y":115,"t":"k"},{"x":1.2871,"y":115,"t":"-Rp=0.4, ω"},{"x":1.7395,"y":115,"t":"=1.3"},{"x":1.21,"y":101.2,"t":"k"},{"x":1.2871,"y":101.2,"t":"-Op=0.4, ω"},{"x":1.7442,"y":101.2,"t":"=1.2"}]},"mark":{"type":"text","align":"left","baseline":"middle","fontWeight":"bold","color":"black"},"encoding":{"shape":{"value":"circle"},"size":{"value":13.5},"text":{"field":"t"}}},
{"data":{"values":[{"x":1.2572,"y":142.5,"t":"z"},{"x":1.804,"y":142.5,"t":"z"},{"x":1.2572,"y":128.7,"t":"z"},{"x":1.6719,"y":128.7,"t":"z"},{"x":1.2572,"y":115,"t":"z"},{"x":1.7096,"y":115,"t":"z"},{"x":1.2572,"y":101.2,"t":"z"},{"x":1.7143,"y":101.2,"t":"z"}]},"mark":{"type":"text","align":"left","baseline":"middle","fontWeight":"bold","dy":5,"color":"black"},"encoding":{"shape":{"value":"circle"},"size":{"value":9.5},"text":{"field":"t"}}}
]}
],
"config":{
"font":"Liberation Sans",
"view":{"stroke":"#c4c4c4"},
"axis":{"labelFontSize":16,"labelFontWeight":"bold","labelColor":"#262626","titleFontSize":18.5,"titleFontWeight":"bold","titleColor":"#262626","grid":true,"gridColor":"#e4e4e4","ticks":false,"domainColor":"#262626","labelFlush":false,"labelOverlap":false},
"axisX":{"labelPadding":11,"titlePadding":4},
"axisY":{"labelPadding":8,"titlePadding":6},
"title":{"fontSize":18,"fontWeight":"bold","color":"black","offset":-4}
}
}
